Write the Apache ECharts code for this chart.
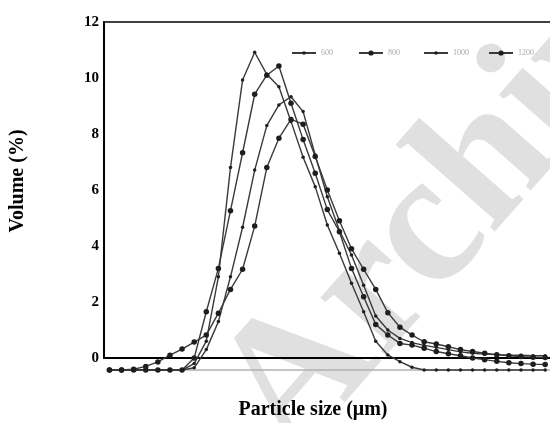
<!DOCTYPE html>
<html>
<head>
<meta charset="utf-8">
<script src="https://cdn.jsdelivr.net/npm/echarts@6/dist/echarts.min.js"></script>
<style>html,body{margin:0;padding:0;background:#fff}#c{width:550px;height:423px}</style>
</head>
<body>
<div id="c"></div>
<script>
// evenly spaced particle-size classes (positions along the x axis)
var sizeClass = [0,1,2,3,4,5,6,7,8,9,10,11,12,13,14,15,16,17,18,19,20,21,22,23,24,25,26,27,28,29,30,31,32,33,34,35,36];
var seriesNames = ['600','800','1000','1200'];
var v600  = [-0.43,-0.43,-0.43,-0.43,-0.43,-0.43,-0.43,-0.2,0.6,2.9,6.8,9.93,10.92,10.13,9.69,8.45,7.17,6.12,4.75,3.74,2.67,1.65,0.6,0.11,-0.13,-0.33,-0.43,-0.43,-0.43,-0.43,-0.43,-0.43,-0.43,-0.43,-0.43,-0.43,-0.43];
var v800  = [-0.43,-0.43,-0.43,-0.43,-0.43,-0.43,-0.43,0.0,1.65,3.2,5.26,7.33,9.42,10.1,10.43,9.1,7.8,6.6,5.3,4.51,3.2,2.19,1.2,0.82,0.52,0.46,0.35,0.23,0.15,0.08,0.0,-0.06,-0.12,-0.17,-0.2,-0.22,-0.23];
var v1000 = [-0.43,-0.43,-0.43,-0.43,-0.43,-0.43,-0.43,-0.35,0.3,1.3,2.9,4.67,6.71,8.3,9.04,9.33,8.8,7.25,5.76,4.55,3.68,2.6,1.5,1.0,0.7,0.55,0.45,0.38,0.3,0.22,0.17,0.14,0.12,0.1,0.1,0.08,0.08];
var v1200 = [-0.43,-0.43,-0.4,-0.3,-0.14,0.1,0.32,0.57,0.82,1.6,2.45,3.17,4.71,6.8,7.85,8.52,8.35,7.2,6.0,4.9,3.9,3.17,2.45,1.62,1.1,0.82,0.58,0.5,0.4,0.3,0.23,0.17,0.12,0.08,0.05,0.03,0.02];
var yTicks = [0,2,4,6,8,10,12];
var baselineValue = -0.43;
var xRange = [-0.45, 36.48];

var allValues = [v600, v800, v1000, v1200];
var symbolSizes = [3.5, 5.5, 3.5, 5.5];
var serif = "'Liberation Serif','Times New Roman',serif";

function pairs(vals){ return sizeClass.map(function(x,i){ return [x, vals[i]]; }); }

var series = [{
  name: 'baseline', type: 'line', data: [[-0.2, baselineValue],[xRange[1], baselineValue]],
  clip: false, showSymbol: false, symbol: 'none', silent: true,
  lineStyle: {color: '#b0b0b0', width: 1.5}, z: 2
}];
seriesNames.forEach(function(n, k){
  series.push({
    name: n, type: 'line', data: pairs(allValues[k]), clip: false,
    symbol: 'circle', symbolSize: symbolSizes[k], showSymbol: true,
    lineStyle: {color: '#3a3a3a', width: 1.4},
    itemStyle: {color: '#1e1e1e', borderWidth: 0},
    z: 5
  });
});

var legendX = [286, 353, 418, 483];
var legends = seriesNames.map(function(n, k){
  return {data: [n], left: legendX[k], top: 44, itemWidth: 24, itemHeight: symbolSizes[k] + 1,
    itemGap: 0, textStyle: {color: '#aaa', fontSize: 8, fontFamily: serif}, selectedMode: false};
});

var chart = echarts.init(document.getElementById('c'), null, {renderer: 'canvas'});
chart.setOption({
  animation: false,
  backgroundColor: '#fff',
  grid: {left: 104, top: 22, right: -1, bottom: 65, show: true, borderColor: '#000', borderWidth: 1.5,
    backgroundColor: 'transparent', outerBoundsMode: 'none', containLabel: false},
  legend: legends,
  xAxis: {type: 'value', min: xRange[0], max: xRange[1],
    axisLine: {show: true, onZero: false, lineStyle: {color: '#000', width: 2}},
    axisTick: {show: false}, axisLabel: {show: false}, splitLine: {show: false}},
  yAxis: {type: 'value', min: yTicks[0], max: yTicks[yTicks.length-1], interval: 2,
    axisLine: {show: true, onZero: false, lineStyle: {color: '#000', width: 2}},
    axisTick: {show: false}, splitLine: {show: false},
    axisLabel: {color: '#000', fontSize: 15, fontWeight: 'bold', fontFamily: serif, margin: 5}},
  graphic: [
    {type: 'text', z: -10, x: 255, y: 430, rotation: 0.85,
      style: {text: 'Archive', fill: '#e0e0e0', font: 'bold 190px ' + serif, textAlign: 'left', textVerticalAlign: 'middle'}},
    {type: 'text', x: 18, y: 181, rotation: Math.PI/2,
      style: {text: 'Volume (%)', fill: '#000', font: 'bold 20px ' + serif, textAlign: 'center', textVerticalAlign: 'middle'}},
    {type: 'text', x: 313, y: 410,
      style: {text: 'Particle size (\u03bcm)', fill: '#000', font: 'bold 20px ' + serif, textAlign: 'center', textVerticalAlign: 'middle'}}
  ],
  series: series
});
</script>
</body>
</html>
